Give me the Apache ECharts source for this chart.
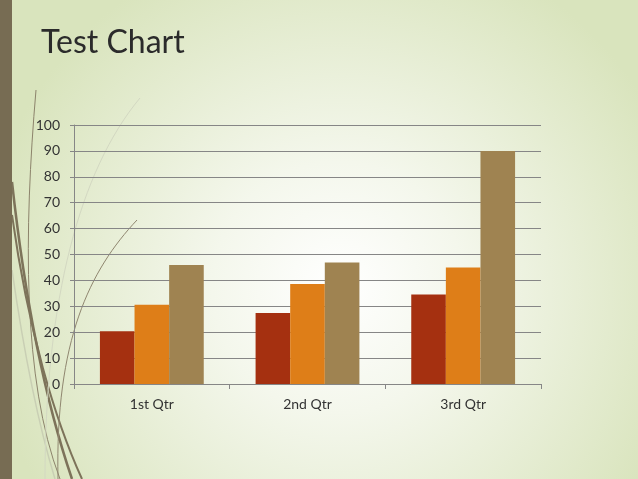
<!DOCTYPE html>
<html>
<head>
<meta charset="utf-8">
<script src="https://cdn.jsdelivr.net/npm/echarts@6/dist/echarts.min.js"></script>
<style>
  html, body { margin: 0; padding: 0; }
  #main { width: 638px; height: 479px; }
</style>
</head>
<body>
<div id="main"></div>
<script>
// chart data
var categories = ['1st Qtr', '2nd Qtr', '3rd Qtr'];
var series1 = [20.4, 27.4, 34.6];
var series2 = [30.6, 38.6, 45];
var series3 = [45.9, 46.9, 90];
var seriesNames = ['Series 1', 'Series 2', 'Series 3'];
var colors = ['#a53010', '#de7e18', '#9f8351'];

var myChart = echarts.init(document.getElementById('main'));
var fontFamily = '"Lato", "DejaVu Sans", sans-serif';

// slide decoration: strip on the left and thin curves
var decoration = [
  {
    type: 'rect',
    z: -10,
    silent: true,
    shape: { x: 0, y: 0, width: 638, height: 479 },
    style: {
      fill: new echarts.graphic.RadialGradient(0.53, 0.6, 0.75, [
        { offset: 0, color: '#ffffff' },
        { offset: 0.35, color: '#f4f7ec' },
        { offset: 1, color: '#d9e4bd' }
      ])
    }
  },
  {
    type: 'rect',
    z: -5,
    silent: true,
    shape: { x: 0, y: 0, width: 12, height: 479 },
    style: { fill: '#776c53' }
  },
  {
    type: 'bezierCurve',
    z: -6,
    silent: true,
    shape: { x1: 36, y1: 90, cpx1: 24, cpy1: 230, cpx2: 22, cpy2: 380, x2: 60, y2: 479 },
    style: { stroke: '#8c836b', lineWidth: 1, fill: null }
  },
  {
    type: 'bezierCurve',
    z: -6,
    silent: true,
    shape: { x1: 12, y1: 182, cpx1: 25, cpy1: 300, cpx2: 45, cpy2: 400, x2: 72, y2: 479 },
    style: { stroke: '#7d735a', lineWidth: 2.5, fill: null }
  },
  {
    type: 'bezierCurve',
    z: -6,
    silent: true,
    shape: { x1: 12, y1: 215, cpx1: 28, cpy1: 330, cpx2: 55, cpy2: 420, x2: 82, y2: 479 },
    style: { stroke: '#7d735a', lineWidth: 2, fill: null }
  },
  {
    type: 'bezierCurve',
    z: -6,
    silent: true,
    shape: { x1: 12, y1: 270, cpx1: 25, cpy1: 360, cpx2: 40, cpy2: 430, x2: 55, y2: 479 },
    style: { stroke: '#c9cfb4', lineWidth: 1.5, fill: null }
  },
  {
    type: 'bezierCurve',
    z: -6,
    silent: true,
    shape: { x1: 140, y1: 98, cpx1: 80, cpy1: 170, cpx2: 45, cpy2: 300, x2: 45, y2: 479 },
    style: { stroke: '#d3d8c2', lineWidth: 1, fill: null }
  },
  {
    type: 'bezierCurve',
    z: -6,
    silent: true,
    shape: { x1: 137, y1: 220, cpx1: 90, cpy1: 270, cpx2: 55, cpy2: 340, x2: 58, y2: 479 },
    style: { stroke: '#8f866f', lineWidth: 1, fill: null }
  }
];

var option = {
  animation: false,
  title: {
    text: 'Test Chart',
    left: 36,
    top: 22,
    textStyle: {
      fontFamily: fontFamily,
      fontSize: 32,
      fontWeight: 'normal',
      color: '#2b2b2b'
    }
  },
  graphic: decoration,
  grid: {
    left: 74,
    right: 97,
    top: 125,
    bottom: 95,
    containLabel: false
  },
  xAxis: {
    type: 'category',
    data: categories,
    axisLine: { lineStyle: { color: '#868686', width: 1 } },
    axisTick: { show: true, length: 5, lineStyle: { color: '#868686' } },
    axisLabel: {
      margin: 13,
      fontFamily: fontFamily,
      fontSize: 14,
      color: '#333333'
    }
  },
  yAxis: {
    type: 'value',
    min: 0,
    max: 100,
    interval: 10,
    axisLine: { show: true, lineStyle: { color: '#868686', width: 1 } },
    axisTick: { show: true, length: 4, lineStyle: { color: '#868686' } },
    splitLine: { lineStyle: { color: '#868686', width: 1 } },
    axisLabel: {
      margin: 14,
      fontFamily: fontFamily,
      fontSize: 14,
      color: '#333333'
    }
  },
  series: [
    {
      name: seriesNames[0],
      type: 'bar',
      data: series1,
      barGap: '0%',
      barCategoryGap: '33.3%',
      itemStyle: { color: colors[0] }
    },
    {
      name: seriesNames[1],
      type: 'bar',
      data: series2,
      itemStyle: { color: colors[1] }
    },
    {
      name: seriesNames[2],
      type: 'bar',
      data: series3,
      itemStyle: { color: colors[2] }
    }
  ]
};
myChart.setOption(option, true);
</script>
</body>
</html>
